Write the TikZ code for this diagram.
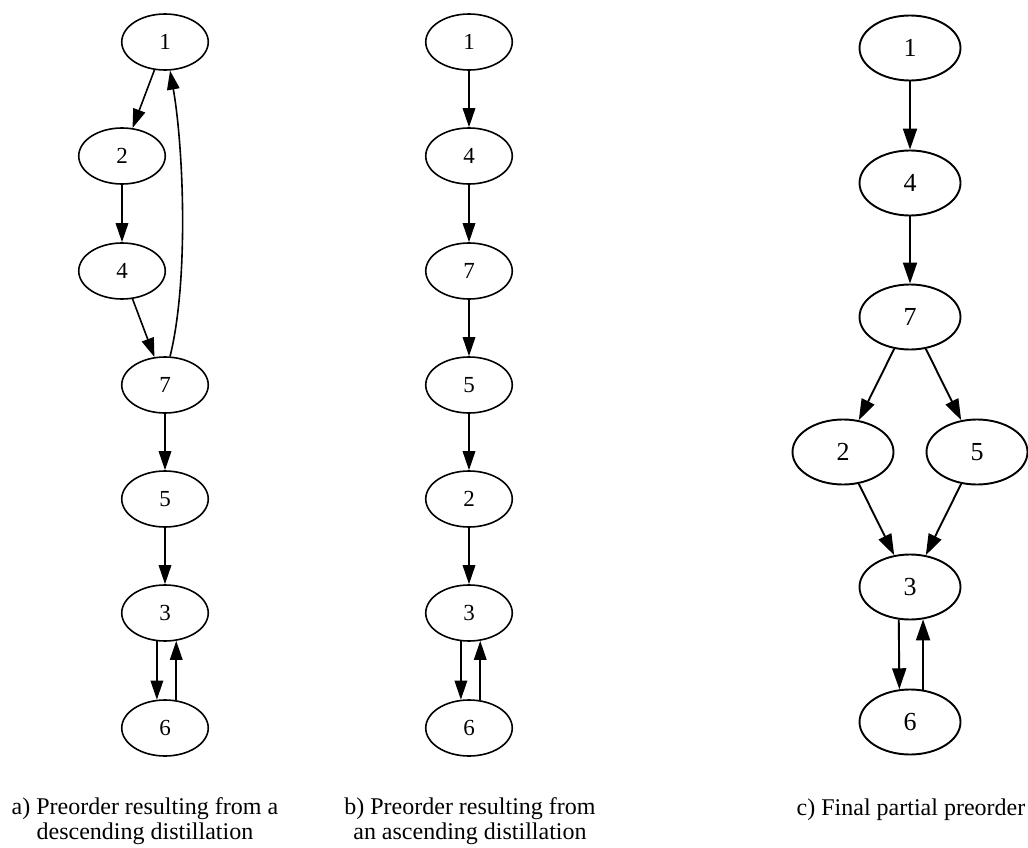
\documentclass[tikz,border=0pt]{standalone}
\usepackage{fontspec}
\setmainfont{Liberation Serif}
\usetikzlibrary{shapes.geometric,arrows.meta}

\begin{document}
\begin{tikzpicture}[
        x=1pt,y=-1pt,
        state/.style={
            ellipse,
            draw,
            line width=1.6pt,
            minimum width=86.5pt,
            minimum height=56pt,
            inner sep=0pt,
            font=\fontsize{23}{25}\selectfont
        },
        bigstate/.style={
            ellipse,
            draw,
            line width=1.9pt,
            minimum width=101pt,
            minimum height=65pt,
            inner sep=0pt,
            font=\fontsize{26}{28}\selectfont
        },
        arrow/.style={-{Triangle[length=19pt,width=12.5pt]}, line width=1.6pt},
        bigarrow/.style={-{Triangle[length=21pt,width=14pt]}, line width=1.9pt},
        caption/.style={
            anchor=north,
            align=center,
            inner sep=0pt,
            font=\fontsize{24}{25.5}\selectfont
        }
    ]

        \useasboundingbox (0,0) rectangle (1028,848);

        \node[state] (a1) at (165,42) {1};
        \node[state] (a2) at (122,156) {2};
        \node[state] (a4) at (122,271) {4};
        \node[state] (a7) at (165,385) {7};
        \node[state] (a5) at (165,499) {5};
        \node[state] (a3) at (165,613) {3};
        \node[state] (a6) at (165,728) {6};

        \draw[arrow] (a1) -- (a2);
        \draw[arrow] (a2) -- (a4);
        \draw[arrow] (a4) -- (a7);
        \draw[arrow] (a7.80) to[out=76,in=-80,looseness=0.7] (a1.-80);
        \draw[arrow] (a7) -- (a5);
        \draw[arrow] (a5) -- (a3);
        \draw[arrow] (a3.-106) -- (a6.106);
        \draw[arrow] (a6.68) -- (a3.-68);

        \node[state] (b1) at (469,42) {1};
        \node[state] (b4) at (469,156) {4};
        \node[state] (b7) at (469,271) {7};
        \node[state] (b5) at (469,385) {5};
        \node[state] (b2) at (469,499) {2};
        \node[state] (b3) at (469,613) {3};
        \node[state] (b6) at (469,728) {6};

        \draw[arrow] (b1) -- (b4);
        \draw[arrow] (b4) -- (b7);
        \draw[arrow] (b7) -- (b5);
        \draw[arrow] (b5) -- (b2);
        \draw[arrow] (b2) -- (b3);
        \draw[arrow] (b3.-106) -- (b6.106);
        \draw[arrow] (b6.68) -- (b3.-68);

        \node[bigstate] (c1) at (910,48) {1};
        \node[bigstate] (c4) at (910,183) {4};
        \node[bigstate] (c7) at (910,317) {7};
        \node[bigstate] (c2) at (843,452) {2};
        \node[bigstate] (c5) at (977,452) {5};
        \node[bigstate] (c3) at (910,587) {3};
        \node[bigstate] (c6) at (910,722) {6};

        \draw[bigarrow] (c1) -- (c4);
        \draw[bigarrow] (c4) -- (c7);
        \draw[bigarrow] (c7) -- (c2);
        \draw[bigarrow] (c7) -- (c5);
        \draw[bigarrow] (c2) -- (c3);
        \draw[bigarrow] (c5) -- (c3);
        \draw[bigarrow] (c3.-109) -- (c6.108.5);
        \draw[bigarrow] (c6.68) -- (c3.-68);

        \node[caption] (capa) at (145,797) {a) Preorder resulting from a\\descending distillation};
        \node[caption] (capb) at (470,797) {b) Preorder resulting from\\an ascending distillation};
        \node[caption] (capc) at (911,799) {c) Final partial preorder};

    \end{tikzpicture}
\end{document}
